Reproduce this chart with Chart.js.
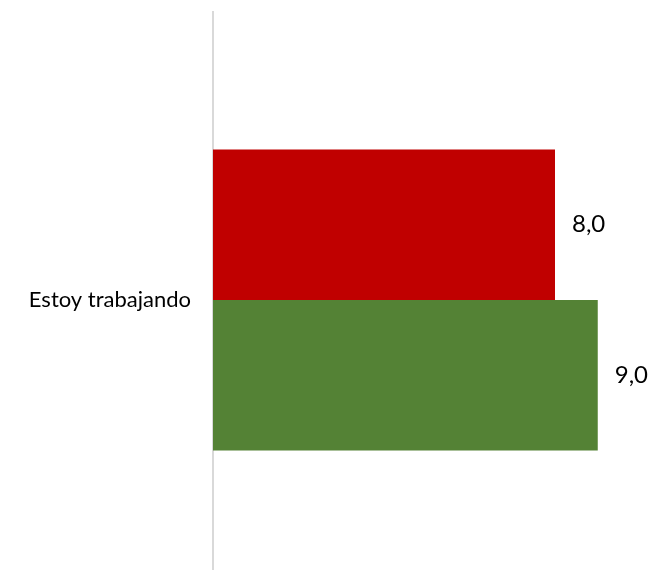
<!DOCTYPE html>
<html>
<head>
<meta charset="utf-8">
<script src="https://cdn.jsdelivr.net/npm/chart.js@4.4.1/dist/chart.umd.min.js"></script>
<style>
  html, body { margin: 0; padding: 0; background: #fff; overflow: hidden; }
  #wrap { width: 657px; height: 600px; position: relative; }
</style>
</head>
<body>
<div id="wrap"><canvas id="graph"></canvas></div>
<script>
const categories = ['Estoy trabajando'];
const serie_roja = [8.0];
const serie_verde = [9.0];
const colores = ['#C00000', '#548235'];

// etiquetas con coma decimal al final de cada barra
const valueLabels = {
    id: 'valueLabels',
    afterDatasetsDraw(chart) {
        const ctx = chart.ctx;
        ctx.save();
        ctx.font = '24px Lato';
        ctx.fillStyle = '#000';
        ctx.textAlign = 'left';
        ctx.textBaseline = 'middle';
        chart.data.datasets.forEach((ds, i) => {
            chart.getDatasetMeta(i).data.forEach((bar, j) => {
                const txt = ds.data[j].toFixed(1).replace('.', ',');
                ctx.fillText(txt, bar.x + 17, bar.y);
            });
        });
        ctx.restore();
    }
};

const chart = new Chart(document.querySelector('#graph'), {
    type: 'bar',
    data: {
        labels: categories,
        datasets: [
            { label: 'a', data: serie_roja, backgroundColor: colores[0] },
            { label: 'b', data: serie_verde, backgroundColor: colores[1] }
        ]
    },
    options: {
        indexAxis: 'y',
        responsive: true,
        maintainAspectRatio: false,
        animation: false,
        layout: { padding: { top: 12, bottom: 12, right: 16.5, left: 0 } },
        plugins: { legend: { display: false }, tooltip: { enabled: false } },
        datasets: { bar: { categoryPercentage: 0.5226, barPercentage: 1.0 } },
        scales: {
            x: { display: false, min: 0, max: 10 },
            y: {
                grid: { display: false },
                border: { display: true, color: '#d9d9d9', width: 2 },
                ticks: { color: '#000', padding: 14, font: { family: 'Lato', size: 22 } },
                afterFit: (s) => { s.width = 213; s.paddingTop = 0; s.paddingBottom = 0; }
            }
        }
    },
    plugins: [valueLabels]
});
</script>
</body>
</html>
